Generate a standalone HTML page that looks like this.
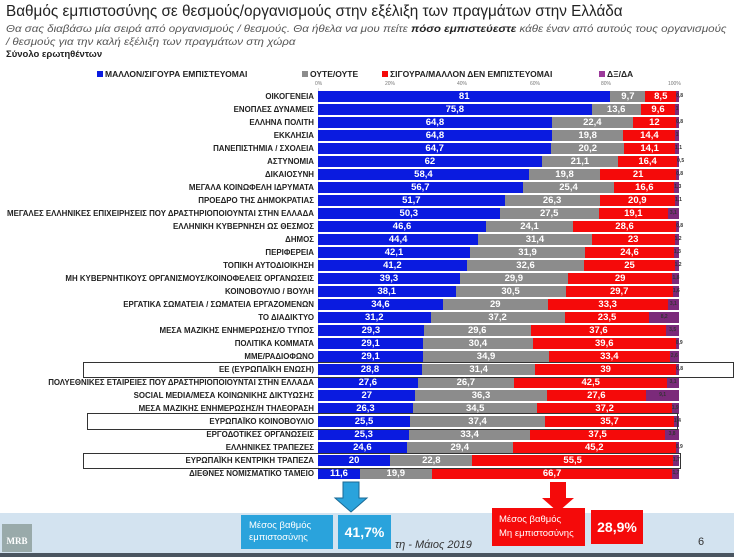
<!DOCTYPE html>
<html><head><meta charset="utf-8">
<style>
*{margin:0;padding:0;box-sizing:border-box}
body{width:734px;height:557px;overflow:hidden;background:#fff;font-family:"Liberation Sans","DejaVu Sans",sans-serif;position:relative}
.t{position:absolute;left:6px;top:3px;font-size:15.3px;color:#222;white-space:nowrap}
.s{position:absolute;left:6px;top:23px;font-size:10.5px;color:#555;font-style:italic;line-height:13px;white-space:nowrap;transform:scaleX(1.1);transform-origin:left}
.s b{color:#222}
.g{position:absolute;left:6px;top:49px;font-size:9.5px;font-weight:bold;color:#222}
.lg{position:absolute;top:69px;font-size:8.5px;font-weight:bold;color:#222;white-space:nowrap}
.lg i{display:inline-block;width:6px;height:6px;margin-right:2px}
.ax{position:absolute;top:81px;font-size:5px;color:#777}
.r{position:absolute;left:0;width:734px;height:11px}
.l{position:absolute;right:420px;top:0;font-size:7.9px;font-weight:bold;color:#222;line-height:11px;white-space:nowrap}
.b{position:absolute;left:318px;width:361px;height:11px;display:flex}
.b i{font-style:normal;height:11px;color:#fff;font-size:9.5px;font-weight:bold;text-align:center;line-height:11px;overflow:visible;white-space:nowrap}
.a{background:#0a1be0}.c{background:#8c8c8c}.d{background:#f50a0a}.e{background:#7b2a7a;font-size:5px!important;color:#333!important}
.bx{position:absolute;border:1px solid #333}
.gl{position:absolute;top:88px;width:1px;height:392px;background:#ddd}
</style></head><body>
<div class="t">Βαθμός εμπιστοσύνης σε θεσμούς/οργανισμούς στην εξέλιξη των πραγμάτων στην Ελλάδα</div>
<div class="s">Θα σας διαβάσω μία σειρά από οργανισμούς / θεσμούς. Θα ήθελα να μου πείτε <b>πόσο εμπιστεύεστε</b> κάθε έναν από αυτούς τους οργανισμούς<br>/ θεσμούς για την καλή εξέλιξη των πραγμάτων στη χώρα</div>
<div class="g">Σύνολο ερωτηθέντων</div>
<div class="lg" style="left:97px"><i style="background:#0a1be0"></i>ΜΑΛΛΟΝ/ΣΙΓΟΥΡΑ ΕΜΠΙΣΤΕΥΟΜΑΙ</div>
<div class="lg" style="left:302px"><i style="background:#8c8c8c"></i>ΟΥΤΕ/ΟΥΤΕ</div>
<div class="lg" style="left:382px"><i style="background:#f50a0a"></i>ΣΙΓΟΥΡΑ/ΜΑΛΛΟΝ ΔΕΝ ΕΜΠΙΣΤΕΥΟΜΑΙ</div>
<div class="lg" style="left:599px"><i style="background:#9b3a9a"></i>ΔΞ/ΔΑ</div>
<div class="ax" style="left:315px">0%</div><div class="ax" style="left:385px">20%</div><div class="ax" style="left:457px">40%</div><div class="ax" style="left:530px">60%</div><div class="ax" style="left:601px">80%</div><div class="ax" style="left:668px">100%</div>
<div class="gl" style="left:318px"></div>

<div class="r" style="top:91px"><div class="l">ΟΙΚΟΓΕΝΕΙΑ</div><div class="b"><i class="a" style="width:81%">81</i><i class="c" style="width:9.7%">9,7</i><i class="d" style="width:8.5%">8,5</i><i class="e" style="width:0.8%">0,8</i></div></div>
<div class="r" style="top:104px"><div class="l">ΕΝΟΠΛΕΣ ΔΥΝΑΜΕΙΣ</div><div class="b"><i class="a" style="width:75.8%">75,8</i><i class="c" style="width:13.6%">13,6</i><i class="d" style="width:9.6%">9,6</i><i class="e" style="width:1%">1</i></div></div>
<div class="r" style="top:117px"><div class="l">ΕΛΛΗΝΑ ΠΟΛΙΤΗ</div><div class="b"><i class="a" style="width:64.8%">64,8</i><i class="c" style="width:22.4%">22,4</i><i class="d" style="width:12%">12</i><i class="e" style="width:0.8%">0,8</i></div></div>
<div class="r" style="top:130px"><div class="l">ΕΚΚΛΗΣΙΑ</div><div class="b"><i class="a" style="width:64.8%">64,8</i><i class="c" style="width:19.8%">19,8</i><i class="d" style="width:14.4%">14,4</i><i class="e" style="width:1%">1</i></div></div>
<div class="r" style="top:143px"><div class="l">ΠΑΝΕΠΙΣΤΗΜΙΑ / ΣΧΟΛΕΙΑ</div><div class="b"><i class="a" style="width:64.7%">64,7</i><i class="c" style="width:20.2%">20,2</i><i class="d" style="width:14.1%">14,1</i><i class="e" style="width:1.1%">1,1</i></div></div>
<div class="r" style="top:156px"><div class="l">ΑΣΤΥΝΟΜΙΑ</div><div class="b"><i class="a" style="width:62%">62</i><i class="c" style="width:21.1%">21,1</i><i class="d" style="width:16.4%">16,4</i><i class="e" style="width:0.5%">0,5</i></div></div>
<div class="r" style="top:169px"><div class="l">ΔΙΚΑΙΟΣΥΝΗ</div><div class="b"><i class="a" style="width:58.4%">58,4</i><i class="c" style="width:19.8%">19,8</i><i class="d" style="width:21%">21</i><i class="e" style="width:0.8%">0,8</i></div></div>
<div class="r" style="top:182px"><div class="l">ΜΕΓΑΛΑ ΚΟΙΝΩΦΕΛΗ ΙΔΡΥΜΑΤΑ</div><div class="b"><i class="a" style="width:56.7%">56,7</i><i class="c" style="width:25.4%">25,4</i><i class="d" style="width:16.6%">16,6</i><i class="e" style="width:1.3%">1,3</i></div></div>
<div class="r" style="top:195px"><div class="l">ΠΡΟΕΔΡΟ ΤΗΣ ΔΗΜΟΚΡΑΤΙΑΣ</div><div class="b"><i class="a" style="width:51.7%">51,7</i><i class="c" style="width:26.3%">26,3</i><i class="d" style="width:20.9%">20,9</i><i class="e" style="width:1.1%">1,1</i></div></div>
<div class="r" style="top:208px"><div class="l">ΜΕΓΑΛΕΣ ΕΛΛΗΝΙΚΕΣ ΕΠΙΧΕΙΡΗΣΕΙΣ ΠΟΥ ΔΡΑΣΤΗΡΙΟΠΟΙΟΥΝΤΑΙ ΣΤΗΝ ΕΛΛΑΔΑ</div><div class="b"><i class="a" style="width:50.3%">50,3</i><i class="c" style="width:27.5%">27,5</i><i class="d" style="width:19.1%">19,1</i><i class="e" style="width:3.1%">3,1</i></div></div>
<div class="r" style="top:221px"><div class="l">ΕΛΛΗΝΙΚΗ ΚΥΒΕΡΝΗΣΗ ΩΣ ΘΕΣΜΟΣ</div><div class="b"><i class="a" style="width:46.6%">46,6</i><i class="c" style="width:24.1%">24,1</i><i class="d" style="width:28.6%">28,6</i><i class="e" style="width:0.8%">0,8</i></div></div>
<div class="r" style="top:234px"><div class="l">ΔΗΜΟΣ</div><div class="b"><i class="a" style="width:44.4%">44,4</i><i class="c" style="width:31.4%">31,4</i><i class="d" style="width:23%">23</i><i class="e" style="width:1.2%">1,2</i></div></div>
<div class="r" style="top:247px"><div class="l">ΠΕΡΙΦΕΡΕΙΑ</div><div class="b"><i class="a" style="width:42.1%">42,1</i><i class="c" style="width:31.9%">31,9</i><i class="d" style="width:24.6%">24,6</i><i class="e" style="width:1.3%">1,3</i></div></div>
<div class="r" style="top:260px"><div class="l">ΤΟΠΙΚΗ ΑΥΤΟΔΙΟΙΚΗΣΗ</div><div class="b"><i class="a" style="width:41.2%">41,2</i><i class="c" style="width:32.6%">32,6</i><i class="d" style="width:25%">25</i><i class="e" style="width:1.2%">1,2</i></div></div>
<div class="r" style="top:273px"><div class="l">ΜΗ ΚΥΒΕΡΝΗΤΙΚΟΥΣ ΟΡΓΑΝΙΣΜΟΥΣ/ΚΟΙΝΟΦΕΛΕΙΣ ΟΡΓΑΝΩΣΕΙΣ</div><div class="b"><i class="a" style="width:39.3%">39,3</i><i class="c" style="width:29.9%">29,9</i><i class="d" style="width:29%">29</i><i class="e" style="width:1.8%">1,8</i></div></div>
<div class="r" style="top:286px"><div class="l">ΚΟΙΝΟΒΟΥΛΙΟ / ΒΟΥΛΗ</div><div class="b"><i class="a" style="width:38.1%">38,1</i><i class="c" style="width:30.5%">30,5</i><i class="d" style="width:29.7%">29,7</i><i class="e" style="width:1.6%">1,6</i></div></div>
<div class="r" style="top:299px"><div class="l">ΕΡΓΑΤΙΚΑ ΣΩΜΑΤΕΙΑ / ΣΩΜΑΤΕΙΑ ΕΡΓΑΖΟΜΕΝΩΝ</div><div class="b"><i class="a" style="width:34.6%">34,6</i><i class="c" style="width:29%">29</i><i class="d" style="width:33.3%">33,3</i><i class="e" style="width:3.1%">3,1</i></div></div>
<div class="r" style="top:312px"><div class="l">ΤΟ ΔΙΑΔΙΚΤΥΟ</div><div class="b"><i class="a" style="width:31.2%">31,2</i><i class="c" style="width:37.2%">37,2</i><i class="d" style="width:23.5%">23,5</i><i class="e" style="width:8.2%">8,2</i></div></div>
<div class="r" style="top:325px"><div class="l">ΜΕΣΑ ΜΑΖΙΚΗΣ ΕΝΗΜΕΡΩΣΗΣ/Ο ΤΥΠΟΣ</div><div class="b"><i class="a" style="width:29.3%">29,3</i><i class="c" style="width:29.6%">29,6</i><i class="d" style="width:37.6%">37,6</i><i class="e" style="width:3.5%">3,5</i></div></div>
<div class="r" style="top:338px"><div class="l">ΠΟΛΙΤΙΚΑ ΚΟΜΜΑΤΑ</div><div class="b"><i class="a" style="width:29.1%">29,1</i><i class="c" style="width:30.4%">30,4</i><i class="d" style="width:39.6%">39,6</i><i class="e" style="width:0.9%">0,9</i></div></div>
<div class="r" style="top:351px"><div class="l">ΜΜΕ/ΡΑΔΙΟΦΩΝΟ</div><div class="b"><i class="a" style="width:29.1%">29,1</i><i class="c" style="width:34.9%">34,9</i><i class="d" style="width:33.4%">33,4</i><i class="e" style="width:2.6%">2,6</i></div></div>
<div class="r" style="top:364px"><div class="l">ΕΕ (ΕΥΡΩΠΑΪΚΗ ΕΝΩΣΗ)</div><div class="b"><i class="a" style="width:28.8%">28,8</i><i class="c" style="width:31.4%">31,4</i><i class="d" style="width:39%">39</i><i class="e" style="width:0.8%">0,8</i></div></div>
<div class="r" style="top:377px"><div class="l">ΠΟΛΥΕΘΝΙΚΕΣ ΕΤΑΙΡΕΙΕΣ ΠΟΥ ΔΡΑΣΤΗΡΙΟΠΟΙΟΥΝΤΑΙ ΣΤΗΝ ΕΛΛΑΔΑ</div><div class="b"><i class="a" style="width:27.6%">27,6</i><i class="c" style="width:26.7%">26,7</i><i class="d" style="width:42.5%">42,5</i><i class="e" style="width:3.1%">3,1</i></div></div>
<div class="r" style="top:390px"><div class="l">SOCIAL MEDIA/ΜΕΣΑ ΚΟΙΝΩΝΙΚΗΣ ΔΙΚΤΥΩΣΗΣ</div><div class="b"><i class="a" style="width:27%">27</i><i class="c" style="width:36.3%">36,3</i><i class="d" style="width:27.6%">27,6</i><i class="e" style="width:9.1%">9,1</i></div></div>
<div class="r" style="top:403px"><div class="l">ΜΕΣΑ ΜΑΖΙΚΗΣ ΕΝΗΜΕΡΩΣΗΣ/Η ΤΗΛΕΟΡΑΣΗ</div><div class="b"><i class="a" style="width:26.3%">26,3</i><i class="c" style="width:34.5%">34,5</i><i class="d" style="width:37.2%">37,2</i><i class="e" style="width:1.9%">1,9</i></div></div>
<div class="r" style="top:416px"><div class="l">ΕΥΡΩΠΑΪΚΟ ΚΟΙΝΟΒΟΥΛΙΟ</div><div class="b"><i class="a" style="width:25.5%">25,5</i><i class="c" style="width:37.4%">37,4</i><i class="d" style="width:35.7%">35,7</i><i class="e" style="width:1.4%">1,4</i></div></div>
<div class="r" style="top:429px"><div class="l">ΕΡΓΟΔΟΤΙΚΕΣ ΟΡΓΑΝΩΣΕΙΣ</div><div class="b"><i class="a" style="width:25.3%">25,3</i><i class="c" style="width:33.4%">33,4</i><i class="d" style="width:37.5%">37,5</i><i class="e" style="width:3.8%">3,8</i></div></div>
<div class="r" style="top:442px"><div class="l">ΕΛΛΗΝΙΚΕΣ ΤΡΑΠΕΖΕΣ</div><div class="b"><i class="a" style="width:24.6%">24,6</i><i class="c" style="width:29.4%">29,4</i><i class="d" style="width:45.2%">45,2</i><i class="e" style="width:0.9%">0,9</i></div></div>
<div class="r" style="top:455px"><div class="l">ΕΥΡΩΠΑΪΚΗ ΚΕΝΤΡΙΚΗ ΤΡΑΠΕΖΑ</div><div class="b"><i class="a" style="width:20%">20</i><i class="c" style="width:22.8%">22,8</i><i class="d" style="width:55.5%">55,5</i><i class="e" style="width:1.7%">1,7</i></div></div>
<div class="r" style="top:468px"><div class="l">ΔΙΕΘΝΕΣ ΝΟΜΙΣΜΑΤΙΚΟ ΤΑΜΕΙΟ</div><div class="b"><i class="a" style="width:11.6%">11,6</i><i class="c" style="width:19.9%">19,9</i><i class="d" style="width:66.7%">66,7</i><i class="e" style="width:1.7%">1,7</i></div></div>

<div class="bx" style="left:83px;top:362px;width:651px;height:16px"></div>
<div class="bx" style="left:87px;top:413px;width:591px;height:17px"></div>
<div class="bx" style="left:83px;top:453px;width:598px;height:16px"></div>

<div style="position:absolute;left:0;top:513px;width:734px;height:40px;background:#d3e3f0"></div>
<div style="position:absolute;left:0;top:553px;width:734px;height:4px;background:#4a5560"></div>
<div style="position:absolute;left:2px;top:524px;width:30px;height:28px;background:#9aa;color:#fff;font:bold 9px 'Liberation Serif',serif;padding-top:12px;text-align:center">MRB</div>
<div style="position:absolute;left:395px;top:539px;font-size:11px;font-style:italic;color:#333">τη - Μάιος 2019</div>
<div style="position:absolute;left:698px;top:536px;font-size:11px;color:#333">6</div>

<svg style="position:absolute;left:0;top:0" width="734" height="557">
<path d="M343 482h16v16h8l-16 14-16-14h8z" fill="#2aa3dc" stroke="#1a6a96" stroke-width="1"/>
<path d="M550 482h16v16h8l-16 14-16-14h8z" fill="#f50a0a"/>
</svg>
<div style="position:absolute;left:241px;top:515px;width:92px;height:34px;background:#2aa3dc;color:#fff;font-size:9.5px;line-height:12px;padding:5px 0 0 8px">Μέσος βαθμός<br>εμπιστοσύνης</div>
<div style="position:absolute;left:338px;top:515px;width:53px;height:34px;background:#2aa3dc;color:#fff;font-size:14px;font-weight:bold;line-height:34px;text-align:center">41,7%</div>
<div style="position:absolute;left:492px;top:508px;width:93px;height:38px;background:#f50a0a;color:#fff;font-size:9.5px;line-height:14px;padding:5px 0 0 7px">Μέσος βαθμός<br>Μη εμπιστοσύνης</div>
<div style="position:absolute;left:591px;top:510px;width:52px;height:34px;background:#f50a0a;color:#fff;font-size:14px;font-weight:bold;line-height:34px;text-align:center">28,9%</div>
</body></html>
